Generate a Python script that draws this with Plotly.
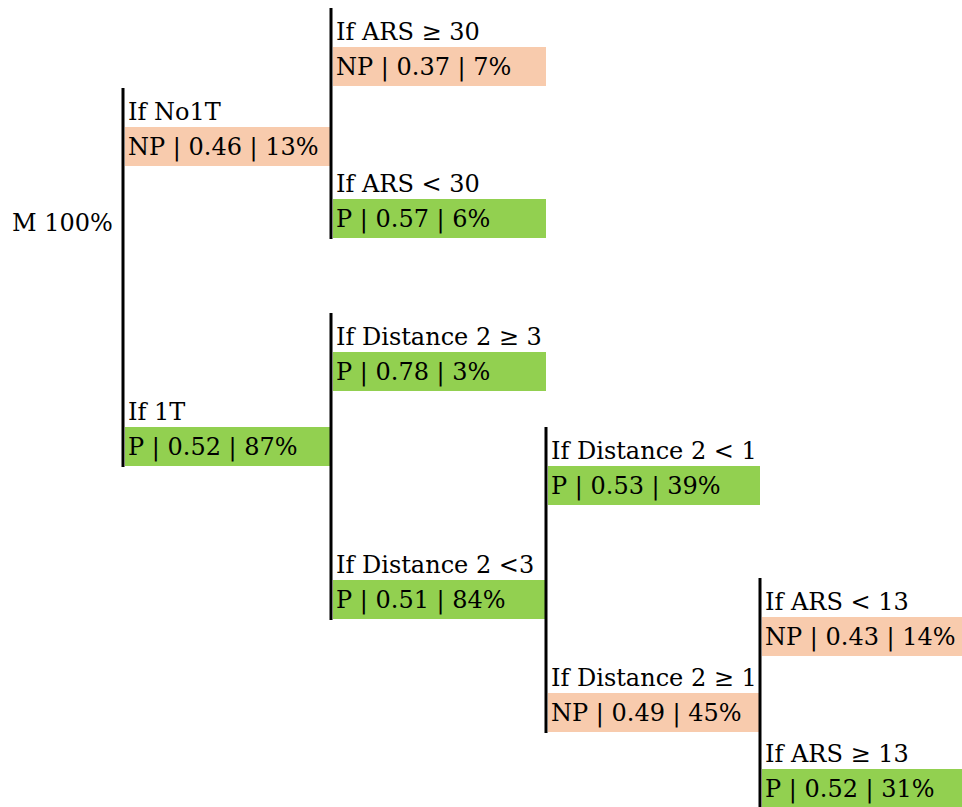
import plotly.graph_objects as go

# ---- data ----
node_ids     = ["No1T", "1T", "ARS>=30", "ARS<30", "D>=3", "D<3", "D<1", "D>=1", "ARS<13", "ARS>=13"]
node_parent  = ["root", "root", "No1T", "No1T", "1T", "1T", "D<3", "D<3", "D>=1", "D>=1"]
node_cond    = ["If No1T", "If 1T", "If ARS ≥ 30", "If ARS < 30", "If Distance 2 ≥ 3",
                "If Distance 2 <3", "If Distance 2 < 1", "If Distance 2 ≥ 1", "If ARS < 13", "If ARS ≥ 13"]
node_class   = ["NP", "P", "NP", "P", "P", "P", "P", "NP", "NP", "P"]
node_prob    = [0.46, 0.52, 0.37, 0.57, 0.78, 0.51, 0.53, 0.49, 0.43, 0.52]
node_share   = [13, 87, 7, 6, 3, 84, 39, 45, 14, 31]
root_label   = "M 100%"

# ---- layout (pixel-like coordinates, not data) ----
W, H = 962, 807
col_line_x = [123, 331, 546, 760]
node_depth = {"No1T": 0, "1T": 0, "ARS>=30": 1, "ARS<30": 1, "D>=3": 1, "D<3": 1,
              "D<1": 2, "D>=1": 2, "ARS<13": 3, "ARS>=13": 3}
box_top = {"No1T": 127, "1T": 427, "ARS>=30": 47, "ARS<30": 199, "D>=3": 352,
           "D<3": 580, "D<1": 466, "D>=1": 693, "ARS<13": 617, "ARS>=13": 769}
BOX_H = 37
LABEL_H = 37
colors = {"NP": "#F8CBAD", "P": "#92D050"}
FONT = dict(family="DejaVu Serif", size=24, color="black")

shapes, annotations = [], []

for i, nid in enumerate(node_ids):
    d = node_depth[nid]
    x0 = col_line_x[d] + 2
    x1 = col_line_x[d + 1] if d + 1 < len(col_line_x) else W + 2
    y0 = box_top[nid]
    shapes.append(dict(type="rect", xref="x", yref="y", x0=x0, x1=x1, y0=y0, y1=y0 + BOX_H + 2,
                       fillcolor=colors[node_class[i]], line=dict(width=0), layer="below"))
    annotations.append(dict(x=x0 + 1, y=y0 + BOX_H / 2 + 2, xref="x", yref="y",
                            text=f"{node_class[i]} | {node_prob[i]:.2f} | {node_share[i]}%",
                            showarrow=False, xanchor="left", yanchor="middle", font=FONT))
    annotations.append(dict(x=x0 + 1, y=y0 - LABEL_H / 2 + 3, xref="x", yref="y",
                            text=node_cond[i], showarrow=False, xanchor="left",
                            yanchor="middle", font=FONT))

# vertical connector per parent group
parents = []
for p in node_parent:
    if p not in parents:
        parents.append(p)
for p in parents:
    kids = [node_ids[i] for i in range(len(node_ids)) if node_parent[i] == p]
    d = node_depth[kids[0]]
    top = min(box_top[k] for k in kids) - LABEL_H - 2
    bot = max(box_top[k] for k in kids) + BOX_H + 3
    shapes.append(dict(type="line", xref="x", yref="y", x0=col_line_x[d], x1=col_line_x[d],
                       y0=top, y1=bot, line=dict(color="black", width=3)))

annotations.append(dict(x=115, y=223, xref="x", yref="y", text=root_label, showarrow=False,
                        xanchor="right", yanchor="middle", font=FONT))

fig = go.Figure()
fig.add_trace(go.Scatter(x=[0, W], y=[0, H], mode="markers", marker=dict(opacity=0),
                         hoverinfo="skip", showlegend=False))
fig.update_layout(width=W, height=H, margin=dict(l=0, r=0, t=0, b=0),
                  plot_bgcolor="white", paper_bgcolor="white",
                  xaxis=dict(range=[0, W], visible=False, fixedrange=True),
                  yaxis=dict(range=[H, 0], visible=False, fixedrange=True),
                  shapes=shapes, annotations=annotations, showlegend=False)
fig.write_html("out.html", config={"displayModeBar": False},
               post_script="document.body.style.margin='0';document.body.style.overflow='hidden';")
